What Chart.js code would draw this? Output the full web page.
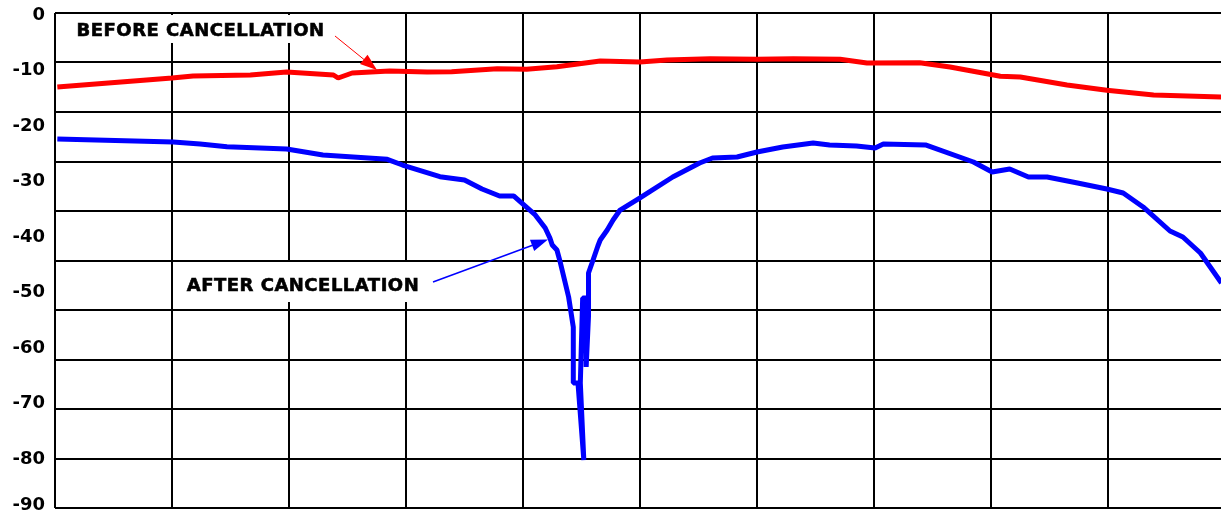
<!DOCTYPE html>
<html>
<head>
<meta charset="utf-8">
<script src="https://cdn.jsdelivr.net/npm/chart.js@4.4.1/dist/chart.umd.min.js"></script>
<style>
  html, body { margin: 0; padding: 0; background: #fff; overflow: hidden; }
  #wrap { width: 1221px; height: 512px; }
</style>
</head>
<body>
<div id="wrap"><canvas id="chart" width="1221" height="512"></canvas></div>
<script>
    // ======== Data ========
    // x is in grid divisions (the original has no x labels), y in dB
    const beforeX = [0.02, 1.0, 1.18, 1.67, 1.98, 2.38, 2.42, 2.54, 2.86, 3.18, 3.39, 3.78, 4.03, 4.29, 4.66,
      5.0, 5.23, 5.6, 6.0, 6.31, 6.71, 6.94, 7.39, 7.65, 8.08, 8.25, 8.65, 8.99, 9.39, 9.97];
    const beforeY = [-12.97, -11.35, -10.99, -10.81, -10.27, -10.81, -11.35, -10.45, -10.09, -10.27, -10.22, -9.68, -9.78, -9.32, -8.29,
      -8.47, -8.11, -7.87, -7.98, -7.87, -7.98, -8.65, -8.59, -9.37, -11.05, -11.17, -12.61, -13.57, -14.41, -14.77];

    const afterX = [0.02, 1.01, 1.24, 1.47, 1.98, 2.29, 2.84, 2.97, 3.29, 3.5, 3.65, 3.8, 3.92, 4.1, 4.19,
      4.23, 4.25, 4.29, 4.32, 4.39, 4.43, 4.43, 4.47, 4.52, 4.49, 4.51, 4.54, 4.54, 4.56, 4.56,
      4.59, 4.64, 4.66, 4.72, 4.77, 4.83, 5.0, 5.28, 5.51, 5.62, 5.83, 6.0, 6.22, 6.48, 6.62,
      6.85, 7.01, 7.08, 7.44, 7.85, 8.01, 8.16, 8.32, 8.48, 8.74, 8.99, 9.13, 9.3, 9.53, 9.64, 9.79, 9.97];
    const afterY = [-22.34, -22.88, -23.24, -23.73, -24.14, -25.23, -26.0, -27.03, -29.14, -29.73, -31.35, -32.61, -32.61, -35.91, -38.38,
      -40.18, -41.44, -42.34, -44.68, -50.81, -56.22, -66.31, -66.31, -80.18, -66.31, -50.99, -50.99, -63.42, -54.23, -46.49,
      -44.68, -41.62, -40.54, -38.74, -36.94, -35.14, -32.97, -29.19, -26.67, -25.77, -25.59, -24.68, -23.78, -23.06, -23.42,
      -23.6, -23.96, -23.24, -23.42, -26.49, -28.29, -27.75, -29.19, -29.19, -30.27, -31.35, -32.07, -34.59, -38.92, -40.0, -42.88, -48.29];

    const yLabels = [0, -10, -20, -30, -40, -50, -60, -70, -80, -90];

    // axis ranges as they fall in the original frame
    const X_MAX = 9.966;
    const Y_TOP = 0.36, Y_BOTTOM = -88.83;
    const LAST_LABEL_AT = -88.4; // bottom label sits just inside the frame

    // callouts (positions in data units)
    const notes = [
      { text: 'BEFORE CANCELLATION', x: 0.184, y: -2.7, padTop: 15, padBottom: 13,
        color: '#ff0000', lw: 1, from: [2.393, -3.78], to: [2.752, -9.91] },
      { text: 'AFTER CANCELLATION', x: 1.126, y: -48.47, padTop: 22, padBottom: 18,
        color: '#0000ff', lw: 1.5, from: [3.231, -48.11], to: [4.214, -40.45] }
    ];

    const FONT = '"DejaVu Sans", Verdana, sans-serif';

    // ======== Callout plugin ========
    const notesPlugin = {
      id: 'notes',
      beforeDatasetsDraw(chart) {
        const { ctx, scales: { x, y } } = chart;
        ctx.save();
        ctx.font = 'bold 18px ' + FONT;
        ctx.letterSpacing = '0.5px';
        notes.forEach(n => {
          const tx = x.getPixelForValue(n.x), ty = y.getPixelForValue(n.y);
          const w = ctx.measureText(n.text).width;
          ctx.fillStyle = '#fff';
          ctx.fillRect(tx - 7, ty - n.padTop, w + 14, n.padTop + n.padBottom);
          ctx.fillStyle = '#000';
          ctx.strokeStyle = '#000';
          ctx.lineWidth = 0.6;
          ctx.textBaseline = 'alphabetic';
          ctx.fillText(n.text, tx, ty + 6.5);
          ctx.strokeText(n.text, tx, ty + 6.5);

          // arrow
          const x1 = x.getPixelForValue(n.from[0]), y1 = y.getPixelForValue(n.from[1]);
          const x2 = x.getPixelForValue(n.to[0]), y2 = y.getPixelForValue(n.to[1]);
          const a = Math.atan2(y2 - y1, x2 - x1);
          const len = 17, hw = 6;
          ctx.strokeStyle = n.color;
          ctx.fillStyle = n.color;
          ctx.lineWidth = n.lw;
          ctx.beginPath();
          ctx.moveTo(x1, y1);
          ctx.lineTo(x2 - Math.cos(a) * len * 0.8, y2 - Math.sin(a) * len * 0.8);
          ctx.stroke();
          const bx = x2 - Math.cos(a) * len, by = y2 - Math.sin(a) * len;
          ctx.beginPath();
          ctx.moveTo(x2, y2);
          ctx.lineTo(bx + Math.sin(a) * hw, by - Math.cos(a) * hw);
          ctx.lineTo(bx - Math.sin(a) * hw, by + Math.cos(a) * hw);
          ctx.closePath();
          ctx.fill();
        });
        ctx.restore();
      }
    };

    // ======== Chart ========
    const toPts = (xs, ys) => xs.map((v, i) => ({ x: v, y: ys[i] }));

    const ctx = document.getElementById('chart').getContext('2d');
    const chart = new Chart(ctx, {
      type: 'line',
      data: {
        datasets: [
          {
            label: 'Before cancellation',
            data: toPts(beforeX, beforeY),
            borderColor: '#ff0000',
            borderWidth: 5,
            borderJoinStyle: 'bevel',
            pointRadius: 0,
            tension: 0,
            fill: false
          },
          {
            label: 'After cancellation',
            data: toPts(afterX, afterY),
            borderColor: '#0000ff',
            borderWidth: 5,
            borderJoinStyle: 'bevel',
            pointRadius: 0,
            tension: 0,
            fill: false
          }
        ]
      },
      options: {
        responsive: false,
        animation: false,
        devicePixelRatio: 1,
        layout: { padding: { top: 13, bottom: 4, left: 0, right: 0 } },
        plugins: { legend: { display: false }, tooltip: { enabled: false } },
        scales: {
          x: {
            type: 'linear', min: 0, max: X_MAX,
            ticks: { display: false, stepSize: 1 },
            grid: { color: '#000', lineWidth: 2, drawTicks: false },
            border: { display: false },
            afterBuildTicks: s => { s.ticks = s.ticks.filter(t => Number.isInteger(t.value)); }
          },
          y: {
            type: 'linear', position: 'left', min: Y_BOTTOM, max: Y_TOP,
            grid: { display: false, drawTicks: false },
            border: { display: false },
            ticks: {
              color: '#000', padding: 10,
              font: { family: FONT, weight: 'bold', size: 18 },
              callback: (v, i) => yLabels[i]
            },
            afterBuildTicks: s => { s.ticks = yLabels.map(v => ({ value: Math.max(v, LAST_LABEL_AT) })); },
            afterFit: s => { s.width = 55; s.paddingTop = 0; s.paddingBottom = 0; }
          },
          yg: {
            type: 'linear', position: 'right', min: 0, max: 10,
            ticks: { display: false, stepSize: 1 },
            grid: { color: '#000', lineWidth: 2, drawTicks: false },
            border: { display: false },
            afterFit: s => { s.width = 0; }
          }
        }
      },
      plugins: [notesPlugin]
    });
</script>
</body>
</html>
